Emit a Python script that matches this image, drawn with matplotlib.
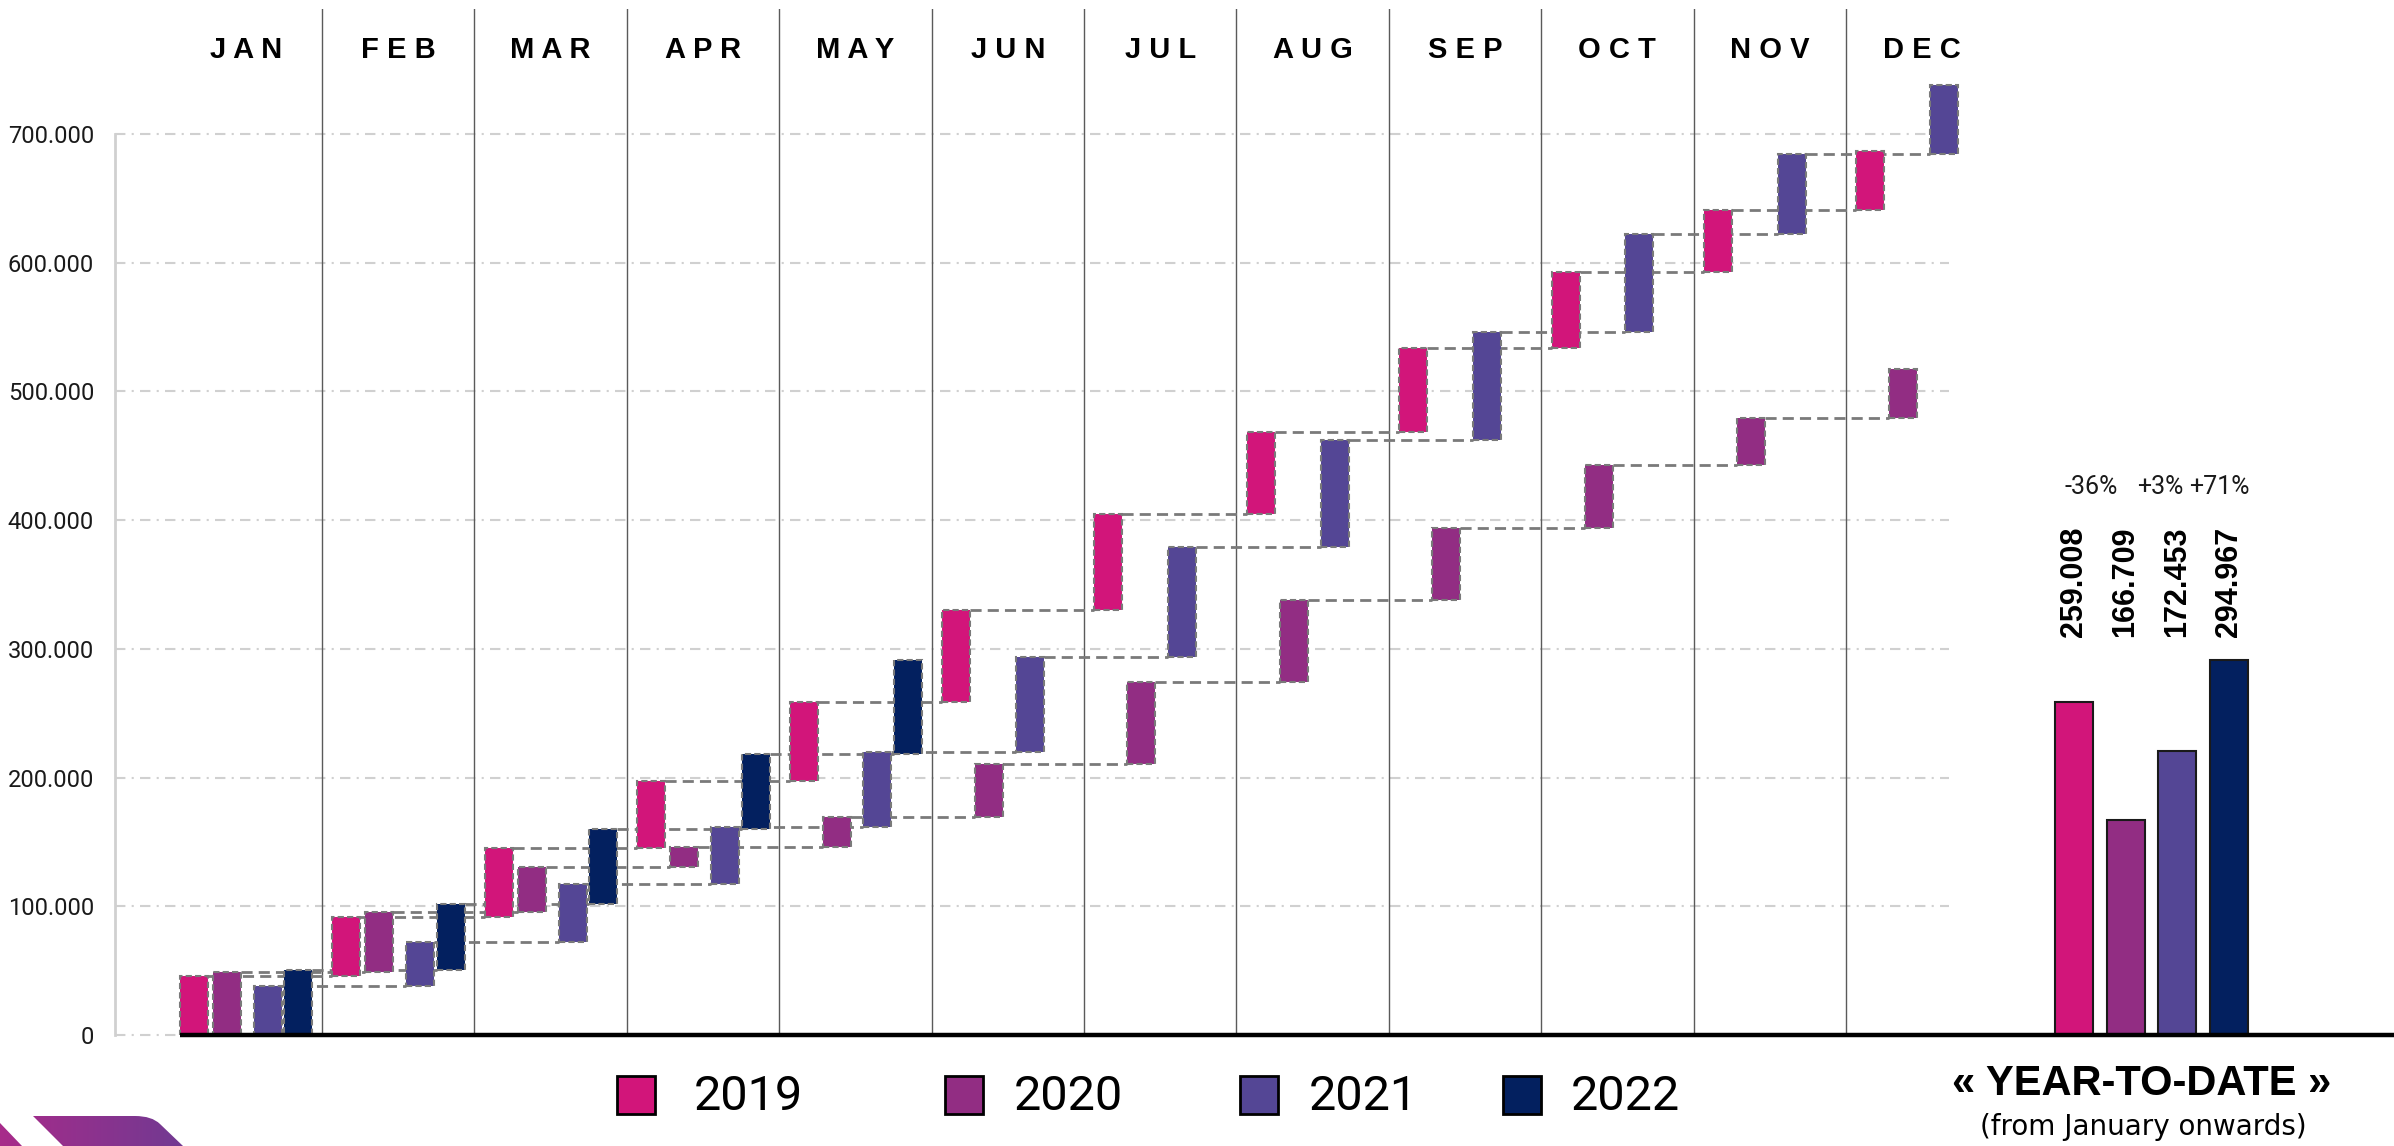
import matplotlib
matplotlib.use("Agg")
import matplotlib.pyplot as plt
import numpy as np
from matplotlib.patches import Rectangle, PathPatch
from matplotlib.path import Path
from matplotlib.colors import LinearSegmentedColormap

# Daten: kumulierte Werte am Monatsende
months = ['JAN', 'FEB', 'MAR', 'APR', 'MAY', 'JUN',
          'JUL', 'AUG', 'SEP', 'OCT', 'NOV', 'DEC']
years = ['2019', '2020', '2021', '2022']

cum_2019 = [45800, 91900, 145000, 197400, 259000, 330600,
            404800, 468800, 533900, 592600, 641200, 687100]
cum_2020 = [49200, 95800, 130600, 146000, 169600, 210600,
            274600, 338000, 393900, 442900, 479200, 517700]
cum_2021 = [38100, 72400, 117600, 161400, 220000, 293400,
            378900, 462000, 546300, 622200, 684500, 738200]
cum_2022 = [50500, 101900, 160000, 218200, 291100]

# Year-to-date Block
ytd_heights = [259000, 166700, 220600, 291100]
ytd_labels = ['259.008', '166.709', '172.453', '294.967']
ytd_changes = ['-36%', '+3%', '+71%']

colors = ['#D2157A', '#922D83', '#544695', '#03205F']
series = [cum_2019, cum_2020, cum_2021, cum_2022]

W, H = 2394, 1146
fig = plt.figure(figsize=(W / 100, H / 100), dpi=100)
ax = fig.add_axes([115 / W, 1 - 1041 / H, (W - 115) / W, (1041 - 9) / H])
x_left, x_right = -0.358, 14.596
y_bot, y_top = -4662, 797200
ax.set_xlim(x_left, x_right)
ax.set_ylim(y_bot, y_top)
for s in ax.spines.values():
    s.set_visible(False)
ax.set_xticks([])

# Y-Achse
yticks = list(range(0, 800000, 100000))
ax.set_yticks(yticks, labels=[f'{v:,}'.replace(',', '.') for v in yticks],
              fontfamily='Roboto', fontweight='normal', fontsize=17, color='#1a1a1a')
ax.tick_params(axis='y', length=0, pad=15)

# Gitterlinien (strichpunktiert, hellgrau)
for v in yticks:
    ax.plot([x_left, 11.676], [v, v], color='#d0d0d0', lw=1.5,
            linestyle=(0, (5, 3, 1, 3)), zorder=0, clip_on=False)
ax.plot([x_left, x_left], [0, 700000], color='#d0d0d0', lw=2, zorder=0, clip_on=False)

# Monatstrenner und Monatsnamen
sep_ymin = (0 - y_bot) / (y_top - y_bot)
for m in range(1, 12):
    ax.axvline(m, ymin=sep_ymin, ymax=1, color='#5a5a5a', lw=1.0, zorder=1)
for m, name in enumerate(months):
    ax.text(m + 0.5, 765000, ' '.join(name), ha='center', va='center',
            fontsize=21, fontweight='bold', family='Liberation Sans')

# Wasserfall-Balken
offsets = [0.16, 0.377, 0.645, 0.845]
width = 0.184
for k, (cum, col) in enumerate(zip(series, colors)):
    prev = 0
    for m, val in enumerate(cum):
        xc = m + offsets[k]
        ax.bar(xc, val - prev, bottom=prev, width=width, color=col,
               edgecolor='#7a7a7a', linestyle=(0, (3, 1.5)), lw=1.5, zorder=3)
        # Verbindungslinie zum naechsten Monat
        if m + 1 < len(cum):
            ax.plot([xc + width / 2, xc + 1 - width / 2], [val, val],
                    color='#7a7a7a', lw=2.0, linestyle=(0, (4, 2.2)), zorder=2)
        prev = val

# Year-to-date Balken
ytd_x = 12.496 + 0.339 * np.arange(4)
ax.bar(ytd_x, ytd_heights, width=0.25, color=colors, edgecolor='#1a1a1a',
       lw=1.5, zorder=3)
for xc, lab in zip(ytd_x, ytd_labels):
    ax.text(xc, 309500, lab, rotation=90, ha='center', va='bottom',
            fontsize=22, fontweight='bold', family='Liberation Sans')
pct_shift = [-0.056, 0.056, 0.108]
for i, ch in enumerate(ytd_changes):
    ax.text((ytd_x[i] + ytd_x[i + 1]) / 2 + pct_shift[i], 425800, ch,
            ha='center', va='center', fontsize=18, fontfamily='Roboto',
            fontweight='normal', color='#1a1a1a')

# Grundlinie
ax.plot([0.068, x_right], [0, 0], color='black', lw=3.2,
        solid_capstyle='butt', zorder=5, clip_on=False)

# Deko-Ebene in Pixelkoordinaten: Legende, Titel, Logo
deco = fig.add_axes([0, 0, 1, 1])
deco.set_xlim(0, W)
deco.set_ylim(H, 0)
deco.axis('off')

leg_sq = [635.8, 964.0, 1259.3, 1521.5]
leg_tx = [693.7, 1014.0, 1308.5, 1570.5]
for xs, xt, col, yr in zip(leg_sq, leg_tx, colors, years):
    deco.add_patch(Rectangle((xs - 19, 1095 - 19), 38, 38, facecolor=col,
                             edgecolor='black', lw=2))
    deco.text(xt, 1097, yr, ha='left', va='center', fontsize=35,
              fontfamily='Roboto')

deco.text(2142, 1084, '« YEAR-TO-DATE »', ha='center', va='center',
          fontsize=30, fontweight='bold', family='Liberation Sans')
deco.text(2143, 1127, '(from January onwards)', ha='center', va='center',
          fontsize=20, family='DejaVu Sans')

# Logo unten links (Farbverlauf)
big = Path([(33, 1116), (135, 1116), (152, 1116), (160, 1124),
            (183, 1146), (63, 1146), (33, 1116)],
           [Path.MOVETO, Path.LINETO, Path.CURVE3, Path.CURVE3,
            Path.LINETO, Path.LINETO, Path.CLOSEPOLY])
small = Path([(0, 1123), (22, 1146), (0, 1146), (0, 1123)],
             [Path.MOVETO, Path.LINETO, Path.LINETO, Path.CLOSEPOLY])
logo = PathPatch(Path.make_compound_path(big, small), facecolor='none',
                 edgecolor='none', transform=deco.transData)
deco.add_patch(logo)
cmap = LinearSegmentedColormap.from_list('logo', ['#a82b8a', '#6f3a92'])
im = deco.imshow(np.linspace(0, 1, 256).reshape(1, -1), cmap=cmap,
                 extent=(0, 190, H, 1110), aspect='auto')
im.set_clip_path(logo)
deco.set_xlim(0, W)
deco.set_ylim(H, 0)

plt.savefig('out.png', dpi=100)
